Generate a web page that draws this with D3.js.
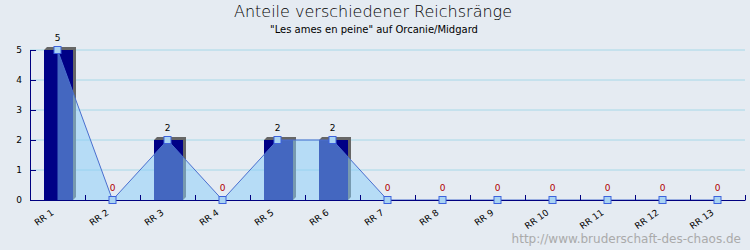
<!DOCTYPE html>
<html>
<head>
<meta charset="utf-8">
<script src="https://cdn.jsdelivr.net/npm/d3@7"></script>
<style>
  body { margin: 0; background: #e5ebf2; }
  svg { display: block; font-family: "DejaVu Sans", sans-serif; }
</style>
</head>
<body>
<div id="chart"></div>
<script>
// chart data
const categories = ['RR 1', 'RR 2', 'RR 3', 'RR 4', 'RR 5', 'RR 6', 'RR 7', 'RR 8', 'RR 9', 'RR 10', 'RR 11', 'RR 12', 'RR 13'];
const values = [5, 0, 2, 0, 2, 2, 0, 0, 0, 0, 0, 0, 0];
const yTicks = [0, 1, 2, 3, 4, 5];
const title = 'Anteile verschiedener Reichsränge';
const subtitle = '"Les ames en peine" auf Orcanie/Midgard';
const watermark = 'http://www.bruderschaft-des-chaos.de';

const width = 750, height = 250;
const margin = { top: 50, right: 5, bottom: 50, left: 30 };

const svg = d3.select('#chart')
    .append('svg')
    .attr('width', width)
    .attr('height', height);

svg.append('rect')
    .attr('width', width)
    .attr('height', height)
    .attr('fill', '#e5ebf2');

const x = d3.scaleBand()
    .domain(categories)
    .range([margin.left, width - margin.right]);

// boundaries of the bands, for the tick marks
const xb = d3.scaleLinear()
    .domain([0, categories.length])
    .range([margin.left, width - margin.right]);

const y = d3.scaleLinear()
    .domain([0, 5])
    .range([height - margin.bottom, margin.top]);

const base = y(0);
const data = categories.map((c, i) => ({ cat: c, value: values[i] }));
const cx = d => x(d.cat) + x.bandwidth() / 2;

// grid lines
svg.append('g')
    .selectAll('line')
    .data(yTicks.filter(t => t > 0))
    .join('line')
    .attr('x1', margin.left)
    .attr('x2', width - margin.right)
    .attr('y1', d => y(d))
    .attr('y2', d => y(d))
    .attr('stroke', '#a6d8e8')
    .attr('stroke-width', 1);

// bars with a small 3d shadow
const barW = 29, depth = 3;
const bars = svg.append('g');
bars.selectAll('path.shadow')
    .data(data.filter(d => d.value > 0))
    .join('path')
    .attr('class', 'shadow')
    .attr('fill', '#666666')
    .attr('d', d => {
        const x0 = cx(d) - 13.5, x1 = x0 + barW, top = y(d.value);
        return `M${x0},${top}L${x0 + depth},${top - depth}L${x1 + depth},${top - depth}` +
            `L${x1 + depth},${base - depth}L${x1},${base}L${x1},${top}Z`;
    });
bars.selectAll('rect')
    .data(data.filter(d => d.value > 0))
    .join('rect')
    .attr('x', d => cx(d) - 13.5)
    .attr('y', d => y(d.value))
    .attr('width', barW)
    .attr('height', d => base - y(d.value))
    .attr('fill', '#000086');

// area under the line
const area = d3.area()
    .x(cx)
    .y0(base)
    .y1(d => y(d.value));

svg.append('path')
    .datum(data)
    .attr('d', area)
    .attr('fill', '#87cefa')
    .attr('fill-opacity', 0.5);

const line = d3.line()
    .x(cx)
    .y(d => y(d.value));

svg.append('path')
    .datum(data)
    .attr('d', line)
    .attr('fill', 'none')
    .attr('stroke', '#4a6fcf')
    .attr('stroke-width', 1);

// y axis, ticks point inwards
const yAxis = svg.append('g')
    .attr('transform', `translate(${margin.left},0)`)
    .call(d3.axisLeft(y).tickValues(yTicks).tickFormat(d3.format('d')).tickSize(-6).tickSizeOuter(0).tickPadding(8));
yAxis.select('.domain').attr('stroke', '#000080');
yAxis.selectAll('.tick line').attr('stroke', '#000080');
yAxis.selectAll('text').attr('font-size', 9).attr('fill', '#000').attr('font-family', 'DejaVu Sans');

// x axis line and boundary ticks
const xTickAxis = svg.append('g')
    .attr('transform', `translate(0,${base})`)
    .call(d3.axisBottom(xb).tickValues(d3.range(1, categories.length + 1)).tickSize(-5).tickSizeOuter(0).tickFormat(''));
xTickAxis.select('.domain').attr('stroke', '#000080');
xTickAxis.selectAll('.tick line').attr('stroke', '#000080');

// rotated category labels
svg.append('g')
    .selectAll('text')
    .data(categories)
    .join('text')
    .attr('transform', d => `translate(${x(d) + x.bandwidth() / 2 - 3},${base + 14}) rotate(-35)`)
    .attr('text-anchor', 'end')
    .attr('font-size', 9)
    .attr('fill', '#000')
    .text(d => d);

// markers
svg.append('g')
    .selectAll('rect')
    .data(data)
    .join('rect')
    .attr('x', d => cx(d) - 3.5)
    .attr('y', d => y(d.value) - 3.5)
    .attr('width', 7)
    .attr('height', 7)
    .attr('fill', '#a9d3f2')
    .attr('stroke', '#3d62dd')
    .attr('stroke-width', 1);

// value labels
svg.append('g')
    .selectAll('text')
    .data(data)
    .join('text')
    .attr('x', cx)
    .attr('y', d => y(d.value) - 9)
    .attr('text-anchor', 'middle')
    .attr('font-size', 9)
    .attr('fill', d => d.value > 0 ? '#000' : '#b00000')
    .text(d => d.value);

// titles
svg.append('text')
    .attr('x', 373)
    .attr('y', 17)
    .attr('text-anchor', 'middle')
    .attr('font-size', 16)
    .attr('font-weight', 200)
    .attr('fill', '#000')
    .text(title);

svg.append('text')
    .attr('x', 374)
    .attr('y', 33)
    .attr('text-anchor', 'middle')
    .attr('font-size', 10)
    .attr('fill', '#000')
    .text(subtitle);

svg.append('text')
    .attr('x', 741)
    .attr('y', 243)
    .attr('text-anchor', 'end')
    .attr('font-size', 12)
    .attr('fill', '#aaaaaa')
    .text(watermark);
</script>
</body>
</html>
